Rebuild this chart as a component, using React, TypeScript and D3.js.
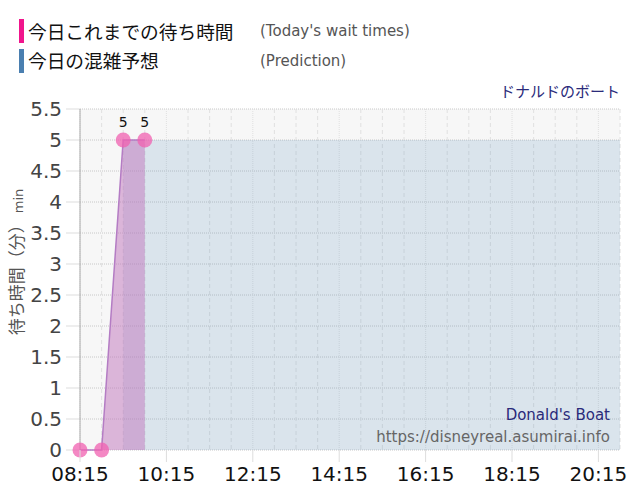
import React from 'react';
import * as d3 from 'd3';

// today's observed waits
const waitTimes = ['08:15', '08:45', '09:15', '09:45'];
const waitValues = [0, 0, 5, 5];

// prediction (every 30 min)
const predTimes = [
  '09:15', '09:45', '10:15', '10:45', '11:15', '11:45', '12:15', '12:45',
  '13:15', '13:45', '14:15', '14:45', '15:15', '15:45', '16:15', '16:45',
  '17:15', '17:45', '18:15', '18:45', '19:15', '19:45', '20:15', '20:45',
];
const predValues = [
  5, 5, 5, 5, 5, 5, 5, 5,
  5, 5, 5, 5, 5, 5, 5, 5,
  5, 5, 5, 5, 5, 5, 5, 5,
];

const xTickLabels = ['08:15', '10:15', '12:15', '14:15', '16:15', '18:15', '20:15'];
const yTicks = [0, 0.5, 1, 1.5, 2, 2.5, 3, 3.5, 4, 4.5, 5, 5.5];

const toMin = (t: string) => {
  const [h, m] = t.split(':').map(Number);
  return h * 60 + m;
};

const W = 640;
const H = 500;
const margin = { left: 80, right: 20, top: 109, bottom: 50 };
const latin = '"DejaVu Sans", Verdana, sans-serif';
const jp = '"Noto Sans CJK JP", "DejaVu Sans", sans-serif';

export default function App() {
  const x = d3.scaleLinear()
    .domain([toMin('08:15'), toMin('20:45')])
    .range([margin.left, W - margin.right]);
  const y = d3.scaleLinear()
    .domain([0, 5.5])
    .range([H - margin.bottom, margin.top]);

  const [x0, x1] = x.range();
  const [yb, yt] = y.range();

  // 30-minute vertical grid
  const gridMins = d3.range(toMin('08:15'), toMin('20:45') + 1, 30);
  const majorMins = xTickLabels.map(toMin);

  const wait = waitTimes.map((t, i) => ({ t: toMin(t), v: waitValues[i] }));
  const pred = predTimes.map((t, i) => ({ t: toMin(t), v: predValues[i] }));

  const area = d3.area<{ t: number; v: number }>()
    .x(d => x(d.t))
    .y0(y(0))
    .y1(d => y(d.v));
  const line = d3.line<{ t: number; v: number }>()
    .x(d => x(d.t))
    .y(d => y(d.v));

  return (
    <svg width={W} height={H} style={{ position: 'absolute', left: 0, top: 0 }}>
      <rect width={W} height={H} fill="#fff" />

      {/* legend */}
      <rect x={19} y={19} width={5} height={24} fill="#f0158c" />
      <text x={28} y={39} fontFamily={jp} fontSize={18.7} fill="#111">今日これまでの待ち時間</text>
      <text x={260} y={36} fontFamily={latin} fontSize={15} fill="#555">(Today's wait times)</text>
      <rect x={19} y={49} width={5} height={24} fill="#4a7fb0" />
      <text x={28} y={68} fontFamily={jp} fontSize={18.7} fill="#111">今日の混雑予想</text>
      <text x={260} y={66} fontFamily={latin} fontSize={15} fill="#555">(Prediction)</text>

      <text x={620} y={97} textAnchor="end" fontFamily={jp} fontSize={15} fill="#2a2a7a">ドナルドのボート</text>

      {/* plot background */}
      <rect x={x0} y={yt} width={x1 - x0} height={yb - yt} fill="#f7f7f7" />

      {/* horizontal grid + tick marks */}
      {yTicks.map(v => (
        <g key={v}>
          <line x1={66} x2={x0} y1={y(v)} y2={y(v)} stroke="#ddd" />
          <line x1={x0} x2={x1} y1={y(v)} y2={y(v)} stroke="#c8c8c8" strokeDasharray="1,1" />
          <text x={62} y={y(v) + 7} textAnchor="end" fontFamily={latin} fontSize={20} fill="#444">{v}</text>
        </g>
      ))}

      {/* vertical grid */}
      {gridMins.map(m => (
        <line key={m} x1={x(m)} x2={x(m)} y1={yt} y2={yb}
          stroke="#e0e0e0" strokeDasharray={majorMins.includes(m) ? '1,1' : '4,3'} />
      ))}

      {/* prediction area */}
      <path d={area(pred) ?? ''} fill="rgb(70,130,180)" fillOpacity={0.16} />

      {/* observed area + line */}
      <path d={area(wait) ?? ''} fill="rgb(192,116,188)" fillOpacity={0.5} />
      <path d={line(wait) ?? ''} fill="none" stroke="#b47cc4" strokeWidth={1.5} />

      {/* axis line */}
      <line x1={x0} x2={x0} y1={yt} y2={yb} stroke="#aaa" />

      {/* points */}
      {wait.map(d => (
        <circle key={d.t} cx={x(d.t)} cy={y(d.v)} r={7.5} fill="#f060b0" fillOpacity={0.75} />
      ))}
      {wait.filter(d => d.v > 0).map(d => (
        <text key={'l' + d.t} x={x(d.t)} y={y(d.v) - 13} textAnchor="middle" fontFamily={latin} fontSize={14} fill="#111">{d.v}</text>
      ))}

      {/* x ticks */}
      {xTickLabels.map(t => (
        <g key={t}>
          <line x1={x(toMin(t))} x2={x(toMin(t))} y1={yb} y2={yb + 12} stroke="#ddd" />
          <text x={x(toMin(t))} y={yb + 31} textAnchor="middle" fontFamily={latin} fontSize={20} fill="#111">{t}</text>
        </g>
      ))}

      {/* y axis title */}
      <text transform={`translate(23,262) rotate(-90)`} textAnchor="middle" fill="#555">
        <tspan fontFamily={jp} fontSize={17}>待ち時間（分）</tspan>
        <tspan fontFamily={latin} fontSize={13} dx={3}>min</tspan>
      </text>

      {/* credits */}
      <text x={610} y={420} textAnchor="end" fontFamily={latin} fontSize={15} fill="#2a2a7a">Donald's Boat</text>
      <text x={610} y={442} textAnchor="end" fontFamily={latin} fontSize={15} fill="#666">https://disneyreal.asumirai.info</text>
    </svg>
  );
}
